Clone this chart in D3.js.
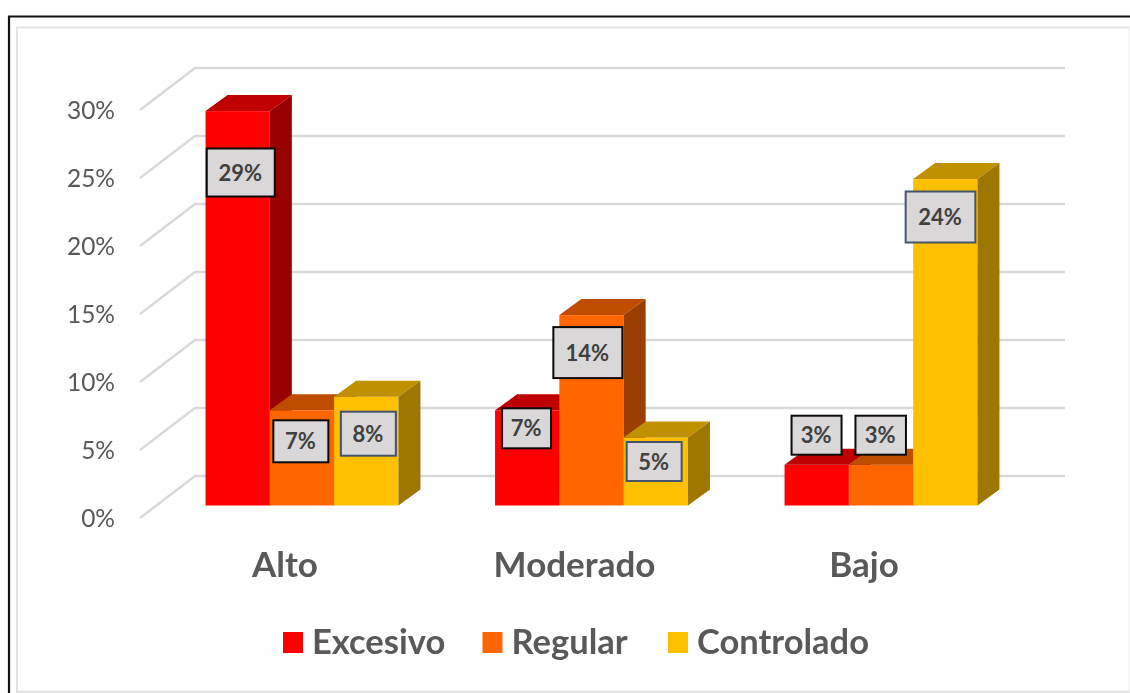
<!DOCTYPE html>
<html>
<head>
<meta charset="utf-8">
<script src="https://cdn.jsdelivr.net/npm/d3@7"></script>
<style>
html, body { margin: 0; padding: 0; background: #fff; }
svg { display: block; filter: blur(0.45px); }
text { font-family: Lato, "Open Sans", sans-serif; }
</style>
</head>
<body>
<div id="chart"></div>
<script>
var categories = ["Alto", "Moderado", "Bajo"];
var seriesNames = ["Excesivo", "Regular", "Controlado"];
var excesivo = [29, 7, 3];
var regular = [7, 14, 3];
var controlado = [8, 5, 24];
var yTicks = [0, 5, 10, 15, 20, 25, 30];

var WIDTH = 1130;
var HEIGHT = 693;
var COLORS = ["#FF0000", "#FF6600", "#FFC000"];
var TOPS = ["#BF0000", "#BF4D00", "#BF9000"];
var SIDES = ["#990000", "#993D00", "#9E7700"];
var BLACK = "#0a0a0a";
var SLATE = "#44546A";

// label boxes, relative to the bar's front left corner and its top: [dx, dy, w, h, stroke]
var labelBoxes = [
    [[1.2, 37.4, 68, 48, BLACK], [3.5, 10, 55, 42, BLACK], [6.7, 15, 55, 44, SLATE]],
    [[7, -2, 49, 40, BLACK], [-6, 12, 69, 51, BLACK], [3, 4.5, 55, 39, SLATE]],
    [[7, -49, 50, 39, BLACK], [6.6, -49, 50.5, 39, BLACK], [-7.5, 12.4, 69.7, 51, SLATE]]
];

var values = [excesivo, regular, controlado];

// front plane of the bars
var y = d3.scaleLinear().domain([0, 30]).range([505.5, 97.5]);
var x0 = d3.scaleBand().domain(categories).range([157.25, 1025.75]);
var BAR_W = 64.3;
// depth of a bar, and where the walls sit relative to the bars
var DX = 22, DY = -16;
var FLOOR_DY = 12.5;
var WALL_X0 = 140, WALL_X1 = 195, WALL_X2 = 1065;

var svg = d3.select("#chart").append("svg").attr("width", WIDTH).attr("height", HEIGHT);

// frames
svg.append("path").attr("d", "M9,693V16.5H1130").attr("fill", "none").attr("stroke", "#111").attr("stroke-width", 2.2);
svg.append("path").attr("d", "M17,693V27.5H1130").attr("fill", "none").attr("stroke", "#e4e4e4").attr("stroke-width", 2);
svg.append("path").attr("d", "M17,691.8H1130").attr("fill", "none").attr("stroke", "#dedede").attr("stroke-width", 2);
svg.append("path").attr("d", "M1129.5,27V692").attr("fill", "none").attr("stroke", "#eeeeee").attr("stroke-width", 1.5);

// gridlines, wall and floor
var grid = svg.append("g").attr("fill", "none").attr("stroke", "#d9d9d9").attr("stroke-width", 2.4);
grid.selectAll("path").data(yTicks).enter().append("path")
    .attr("d", function(d) {
        var yf = y(d) + FLOOR_DY;
        return "M" + WALL_X0 + "," + yf + "L" + WALL_X1 + "," + (yf - 42) + "H" + WALL_X2;
    });

// value axis
var axis = d3.axisLeft(y).tickValues(yTicks).tickSize(0).tickPadding(0).tickFormat(function(d) { return d + "%"; });
var axisG = svg.append("g").attr("transform", "translate(115,20)").call(axis);
axisG.select(".domain").remove();
axisG.selectAll("text").attr("font-size", 24.5).attr("fill", "#595959").style("font-family", "Lato, sans-serif").attr("dy", "0.05em");

// bars, left to right so that each one covers the side of the previous one
var bars = svg.append("g");
var labels = svg.append("g");
categories.forEach(function(cat, c) {
    var left = x0(cat) + (x0.bandwidth() - BAR_W * 3) / 2;
    seriesNames.forEach(function(name, s) {
        var v = values[s][c];
        var xl = left + s * BAR_W;
        var xr = xl + BAR_W;
        var yt = y(v);
        var yb = y(0);
        bars.append("rect").attr("x", xl).attr("y", yt).attr("width", BAR_W).attr("height", yb - yt).attr("fill", COLORS[s]);
        bars.append("path").attr("fill", TOPS[s])
            .attr("d", "M" + xl + "," + yt + "l" + DX + "," + DY + "H" + (xr + DX) + "L" + xr + "," + yt + "Z");
        bars.append("path").attr("fill", SIDES[s])
            .attr("d", "M" + xr + "," + yt + "l" + DX + "," + DY + "V" + (yb + DY) + "L" + xr + "," + yb + "Z");

        var box = labelBoxes[c][s];
        var g = labels.append("g").attr("transform", "translate(" + (xl + box[0]) + "," + (yt + box[1]) + ")");
        g.append("rect").attr("width", box[2]).attr("height", box[3])
            .attr("fill", "#D9D7D7").attr("stroke", box[4]).attr("stroke-width", 2);
        g.append("text").attr("x", box[2] / 2 - 0.5).attr("y", box[3] / 2 + 0.5).attr("dy", "0.35em")
            .attr("text-anchor", "middle").attr("font-size", 22).attr("font-weight", 700).attr("fill", "#404040")
            .text(v + "%");
    });
});

// category labels, centred on the floor rather than on the bars
svg.append("g").selectAll("text").data(categories).enter().append("text")
    .attr("x", function(d) { return x0(d) + x0.bandwidth() / 2 - 17; })
    .attr("y", 577)
    .attr("text-anchor", "middle").attr("font-size", 35).attr("font-weight", 700).attr("fill", "#595959")
    .text(function(d) { return d; });

// legend
var legendX = [283, 482.5, 668];
var legend = svg.append("g").selectAll("g").data(seriesNames).enter().append("g")
    .attr("transform", function(d, i) { return "translate(" + legendX[i] + ",632)"; });
legend.append("rect").attr("width", 20).attr("height", 21).attr("fill", function(d, i) { return COLORS[i]; });
legend.append("text").attr("x", 29).attr("y", 22).attr("font-size", 34.5).attr("font-weight", 700).attr("fill", "#595959")
    .text(function(d) { return d; });
</script>
</body>
</html>
